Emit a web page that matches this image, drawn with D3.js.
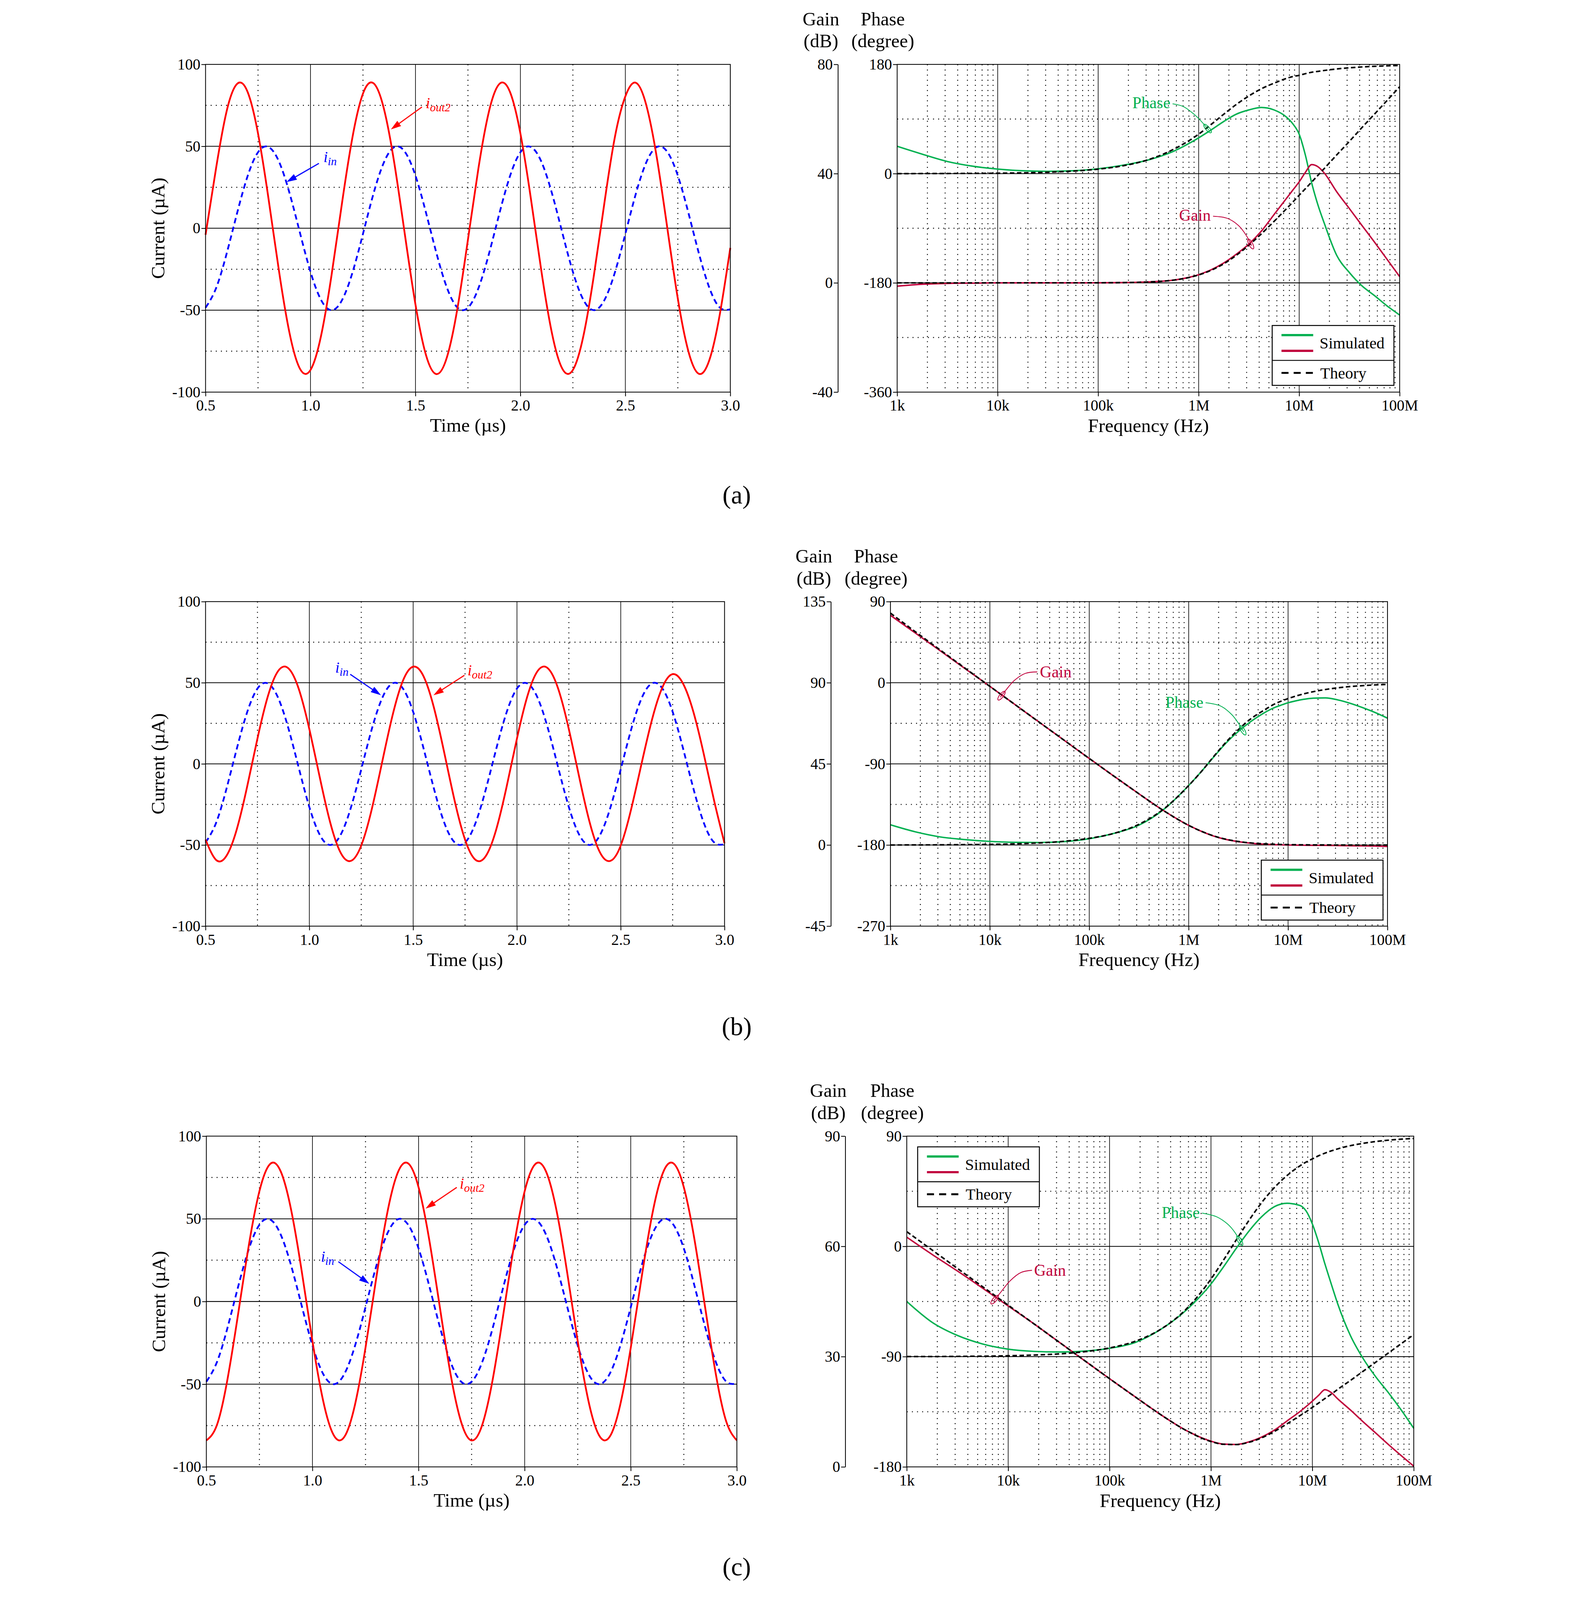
<!DOCTYPE html>
<html>
<head>
<meta charset="utf-8">
<script src="https://cdn.jsdelivr.net/npm/d3@7"></script>
<style>
  html, body { margin: 0; padding: 0; background: #fff; overflow: hidden; }
  svg { display: block; }
</style>
</head>
<body>
<svg id="chart"></svg>
<script>
// ---------------- DATA ----------------
// time axis samples (µs)
const timeUs = [0.5,0.55,0.6,0.65,0.7,0.75,0.8,0.85,0.9,0.95,1.0,1.05,1.1,1.15,1.2,1.25,1.3,1.35,1.4,1.45,
  1.5,1.55,1.6,1.65,1.7,1.75,1.8,1.85,1.9,1.95,2.0,2.05,2.1,2.15,2.2,2.25,2.3,2.35,2.4,2.45,
  2.5,2.55,2.6,2.65,2.7,2.75,2.8,2.85,2.9,2.95,3.0];
// input current i_in (µA) - same input in every panel
const iIn = [-48.5,-36.6,-15.7,9.1,31.7,46.4,49.6,40.6,21.5,-2.9,-26.6,-43.7,-50.0,-43.9,-27.0,-3.4,21.1,40.3,49.6,46.6,32.1,9.6,-15.2,-36.3,-48.4,
  -48.5,-36.6,-15.7,9.1,31.7,46.4,49.6,40.6,21.5,-2.9,-26.6,-43.7,-50.0,-43.9,-27.0,-3.4,21.1,40.3,49.6,46.6,32.1,9.6,-15.2,-36.3,-48.4,
  -49.5];
// output current i_out2 (µA)
const iOut2A = [-4,36.6,71.2,88.1,83.3,57.8,18.0,-26.2,-63.9,-85.8,-86.5,-65.8,-28.8,15.3,55.6,82.2,88.5,72.8,39.2,-4.2,
  -46.5,-77.3,-89.0,-78.7,-48.9,-7.0,36.6,71.2,88.1,83.3,57.8,18.0,-26.2,-63.9,-85.8,-86.5,-65.8,-28.8,15.3,55.6,
  80.5,88.8,75.0,43.0,0.0,-43.0,-75.0,-88.8,-80.5,-52.5,-12.0];
const iOut2B = [-46.7,-59.1,-56.8,-40.5,-14.2,15.6,41.6,57.3,58.8,45.8,21.4,-8.2,-35.9,-54.6,-59.8,-50.3,-28.3,0.7,29.5,51.0,
  59.9,54.0,34.7,6.8,-22.8,-46.7,-59.1,-56.8,-40.5,-14.2,15.6,41.6,57.3,58.8,45.8,21.4,-8.2,-35.9,-54.6,-59.8,
  -50.3,-28,0,27,47,55.3,49.5,32,6,-22.8,-49];
const iOut2C = [-84.0,-74.6,-46.7,-7.3,33.9,66.7,83.1,78.8,55.1,17.8,-24.0,-59.8,-80.8,-81.9,-62.6,-27.9,13.7,51.9,77.3,83.6,
  69.1,37.6,-3.2,-43.3,-72.6,-84.0,-74.6,-46.7,-7.3,33.9,66.7,83.1,78.8,55.1,17.8,-24.0,-59.8,-80.8,-81.9,-62.6,
  -27.9,13.7,51.9,77.3,83.6,69.1,37.6,-3.2,-43.3,-72.6,-84.0];

// frequency samples (Hz)
const freqHz = [1e3,1.78e3,3.16e3,5.62e3,1e4,1.78e4,3.16e4,5.62e4,1e5,1.78e5,3.16e5,5.62e5,1e6,1.33e6,1.78e6,2.37e6,
  3.16e6,4.22e6,5.62e6,7.5e6,8.66e6,1e7,1.155e7,1.33e7,1.54e7,1.78e7,2.37e7,3.16e7,4.22e7,5.62e7,7.5e7,1e8];
// panel (a)
const gainTheoryA = [0,0,0,0,0,0,0,0,0.03,0.1,0.33,1.0,2.9,4.6,7.0,10.1,13.8,18.0,22.5,27.2,29.6,32.1,34.5,36.9,39.4,41.9,46.9,51.8,56.9,61.8,66.8,71.8];
const gainSimA = [-1.2,-0.5,-0.2,-0.1,0,0,0,0,0.03,0.1,0.35,1.0,3.0,4.8,7.3,10.5,14.2,19.0,25.0,31.0,34.0,37.0,40.5,43.3,42.5,40.2,33.3,27.2,21.0,14.9,8.6,2.3];
const phaseTheoryA = [0,0.1,0.2,0.4,0.7,1.3,2.3,4.2,7.4,13,23,40,65,81,98,114,128,140,149,157,160,162,164.7,167,168.5,170,172.5,174.4,175.8,176.8,177.6,178.2];
const phaseSimA = [45,32,20,12.3,7.5,4.7,3.8,4.7,8,14,22.6,36.8,59,72,86,98,105,109,105,93,82,65,30,-15,-52,-82,-135,-163,-185,-201,-218,-233];
// panel (b)
const gainTheoryB = [128.6,118.3,108.2,98.1,88.0,78.0,68.0,58.0,48.0,38.1,28.4,19.0,10.9,7.7,5.1,3.2,1.95,1.15,0.67,0.38,0.29,0.2,0.16,0.12,0.09,0.07,0.04,0.02,0.01,0.01,0,0];
const gainSimB = [127.4,117.6,107.8,97.9,88.0,78.0,68.0,58.0,48.0,38.1,28.4,19.0,10.9,7.7,5.0,3.1,1.85,1.0,0.5,0.2,0.1,0.0,-0.05,-0.1,-0.15,-0.2,-0.2,-0.3,-0.4,-0.5,-0.6,-0.8];
const phaseTheoryB = [-180,-179.9,-179.8,-179.6,-179.3,-178.7,-177.7,-175.8,-172.6,-167,-157,-140,-114,-99,-82,-66,-52,-40,-31,-23,-20.1,-17.6,-15.3,-13.3,-11.5,-10,-7.5,-5.6,-4.2,-3.2,-2.4,-1.8];
const phaseSimB = [-157.6,-165.4,-171,-174,-176,-177,-177.2,-176.2,-173,-167,-158,-140.5,-114,-99,-82.5,-67,-54,-43,-34,-27,-24.5,-22.2,-20.5,-19,-17.9,-17.1,-16.8,-19,-22.8,-27.6,-33,-39.3];
// panel (c)
const gainTheoryC = [64.0,59.0,54.0,49.0,44.0,39.0,34.0,29.0,24.0,19.1,14.3,10.0,6.9,6.15,6.08,6.7,7.9,9.65,11.7,13.9,15.0,16.2,17.4,18.6,19.8,21.1,23.5,26.0,28.5,31.0,33.5,36.0];
const gainSimC = [62.5,57.8,53.3,48.6,43.8,39.0,34.0,29.0,24.0,19.1,14.3,10.0,7.0,6.2,6.1,6.8,8.1,10.0,12.5,15.0,16.4,17.9,19.5,21.0,20.2,18.5,15.5,12.3,9.2,6.1,3.1,0.2];
const phaseTheoryC = [-89.9,-89.9,-89.8,-89.6,-89.3,-88.7,-87.8,-86.0,-82.9,-77.5,-67.9,-51.7,-26.7,-11.2,5.4,21.2,35.7,48.0,57.8,65.6,68.8,71.4,74.0,76.1,78.0,79.6,82.2,84.1,85.6,86.7,87.5,88.1];
const phaseSimC = [-45,-62,-72.7,-79.7,-83.9,-85.7,-86.2,-85.5,-83.2,-78.5,-68,-52.5,-30.7,-16.7,-1.5,12.5,24.2,32.4,35.2,33.5,29,18.3,3,-14.3,-31,-47,-72.7,-91.4,-106.5,-119.4,-133.4,-148.5];

// ticks
const timeTicks = [0.5,1.0,1.5,2.0,2.5,3.0];
const timeMinor = [0.75,1.25,1.75,2.25,2.75];
const currentTicks = [-100,-50,0,50,100];
const currentMinor = [-75,-25,25,75];
const freqTicks = [1e3,1e4,1e5,1e6,1e7,1e8];
const freqTickLabels = ["1k","10k","100k","1M","10M","100M"];
const gainTicksA = [-40,0,40,80], phaseTicksA = [-360,-180,0,180];
const gainTicksB = [-45,0,45,90,135], phaseTicksB = [-270,-180,-90,0,90];
const gainTicksC = [0,30,60,90], phaseTicksC = [-180,-90,0,90];

// ---------------- CANVAS (fit the whole figure into what is photographed) ----------------
const W = 4051, H = 4975;
const vw = window.innerWidth || W;
const vh = Math.min(window.innerHeight || H, H, 4080);
const root = d3.select("#chart")
  .attr("width", vw).attr("height", vh)
  .attr("viewBox", `0 0 ${W} ${H}`)
  .attr("preserveAspectRatio", "xMidYMin meet");
root.append("rect").attr("x", 0).attr("y", 0).attr("width", W).attr("height", H).attr("fill", "#fff");
const svg = root.append("g");

// ---------------- STYLE ----------------
const FONT = "'Liberation Serif','Times New Roman',Times,serif";
const RED = "#ff0000", BLUE = "#0000ff", GREEN = "#00b050", CRIMSON = "#c0003c";

function dottedLine(g, x1, y1, x2, y2) {
  g.append("line").attr("x1", x1).attr("y1", y1).attr("x2", x2).attr("y2", y2)
    .attr("stroke", "#000").attr("stroke-width", 3).attr("stroke-dasharray", "3,13");
}
function solidLine(g, x1, y1, x2, y2, w) {
  g.append("line").attr("x1", x1).attr("y1", y1).attr("x2", x2).attr("y2", y2)
    .attr("stroke", "#000").attr("stroke-width", w || 2);
}
function styleAxis(ax, keepDomain) {
  if (!keepDomain) ax.select(".domain").remove();
  else ax.select(".domain").attr("stroke", "#000").attr("stroke-width", 2.5);
  ax.selectAll(".tick line").attr("stroke", "#000").attr("stroke-width", 2.5);
  ax.selectAll("text").attr("font-family", FONT).attr("font-size", 48).attr("fill", "#000");
}
function arrowTo(g, x1, y1, x2, y2, color) {
  const dx = x2 - x1, dy = y2 - y1, L = Math.hypot(dx, dy), ux = dx / L, uy = dy / L;
  const hl = 32, hw = 10;
  const bx = x2 - ux * hl, by = y2 - uy * hl;
  g.append("line").attr("x1", x1).attr("y1", y1).attr("x2", bx + ux * 4).attr("y2", by + uy * 4)
    .attr("stroke", color).attr("stroke-width", 3.5);
  g.append("path").attr("d", `M${x2},${y2}L${bx - uy * hw},${by + ux * hw}L${bx + uy * hw},${by - ux * hw}Z`)
    .attr("fill", color);
}

// ---------------- TIME PANEL ----------------
function timePanel(box, iout, annos) {
  const g = svg.append("g");
  const x = d3.scaleLinear().domain([0.5, 3.0]).range([box.L, box.R]);
  const y = d3.scaleLinear().domain([-100, 100]).range([box.B, box.T]);
  timeMinor.forEach(t => dottedLine(g, x(t), box.T, x(t), box.B));
  currentMinor.forEach(v => dottedLine(g, box.L, y(v), box.R, y(v)));
  timeTicks.slice(1, -1).forEach(t => solidLine(g, x(t), box.T, x(t), box.B, 2));
  currentTicks.slice(1, -1).forEach(v => solidLine(g, box.L, y(v), box.R, y(v), 2.5));

  const line = d3.line().x((d, i) => x(timeUs[i])).y(d => y(d)).curve(d3.curveNatural);
  g.append("path").attr("d", line(iIn)).attr("fill", "none").attr("stroke", BLUE)
    .attr("stroke-width", 5.5).attr("stroke-dasharray", "17,11");
  g.append("path").attr("d", line(iout)).attr("fill", "none").attr("stroke", RED)
    .attr("stroke-width", 5.5).attr("stroke-linejoin", "round");

  g.append("rect").attr("x", box.L).attr("y", box.T).attr("width", box.R - box.L).attr("height", box.B - box.T)
    .attr("fill", "none").attr("stroke", "#000").attr("stroke-width", 2.5);

  const ax = g.append("g").attr("transform", `translate(0,${box.B})`)
    .call(d3.axisBottom(x).tickValues(timeTicks).tickFormat(d3.format(".1f")).tickSize(13).tickPadding(11));
  styleAxis(ax);
  const ay = g.append("g").attr("transform", `translate(${box.L},0)`)
    .call(d3.axisLeft(y).tickValues(currentTicks).tickFormat(d => String(d)).tickSize(13).tickPadding(3));
  styleAxis(ay);

  g.append("text").attr("x", (box.L + box.R) / 2).attr("y", box.B + 124).attr("text-anchor", "middle")
    .attr("font-family", FONT).attr("font-size", 60).text("Time (µs)");
  g.append("text").attr("transform", `translate(${box.L - 128},${(box.T + box.B) / 2}) rotate(-90)`)
    .attr("text-anchor", "middle").attr("font-family", FONT).attr("font-size", 60).text("Current (µA)");

  annos.forEach(a => {
    const t = g.append("text").attr("x", x(a.label[0])).attr("y", y(a.label[1]))
      .attr("font-family", FONT).attr("font-style", "italic").attr("fill", a.color);
    t.append("tspan").attr("font-size", 48).text("i");
    t.append("tspan").attr("font-size", 36).attr("dy", 10).text(a.sub);
    arrowTo(g, x(a.from[0]), y(a.from[1]), x(a.to[0]), y(a.to[1]), a.color);
  });
}

// ---------------- BODE PANEL ----------------
function bodePanel(box, gainDom, phaseDom, gainTicks, phaseTicks, s, legendBox, annos) {
  const g = svg.append("g");
  const x = d3.scaleLog().domain([1e3, 1e8]).range([box.L, box.R]);
  const yg = d3.scaleLinear().domain(gainDom).range([box.B, box.T]);
  const yp = d3.scaleLinear().domain(phaseDom).range([box.B, box.T]);

  // grid
  [1e3, 1e4, 1e5, 1e6, 1e7].forEach(dec => {
    for (let k = 2; k <= 9; k++) dottedLine(g, x(k * dec), box.T, x(k * dec), box.B);
  });
  for (let i = 0; i < phaseTicks.length - 1; i++) {
    const m = (phaseTicks[i] + phaseTicks[i + 1]) / 2;
    dottedLine(g, box.L, yp(m), box.R, yp(m));
  }
  freqTicks.slice(1, -1).forEach(f => solidLine(g, x(f), box.T, x(f), box.B, 2));
  phaseTicks.slice(1, -1).forEach(p => solidLine(g, box.L, yp(p), box.R, yp(p), 2.5));

  // curves
  const lg = d3.line().x((d, i) => x(freqHz[i])).y(d => yg(d)).curve(d3.curveMonotoneX);
  const lp = d3.line().x((d, i) => x(freqHz[i])).y(d => yp(d)).curve(d3.curveMonotoneX);
  g.append("path").attr("d", lp(s.phaseSim)).attr("fill", "none").attr("stroke", GREEN).attr("stroke-width", 4.5);
  g.append("path").attr("d", lg(s.gainSim)).attr("fill", "none").attr("stroke", CRIMSON).attr("stroke-width", 4.5);
  g.append("path").attr("d", lp(s.phaseTheory)).attr("fill", "none").attr("stroke", "#000")
    .attr("stroke-width", 4.8).attr("stroke-dasharray", "14,8");
  g.append("path").attr("d", lg(s.gainTheory)).attr("fill", "none").attr("stroke", "#000")
    .attr("stroke-width", 4.8).attr("stroke-dasharray", "14,8");

  // frame
  g.append("rect").attr("x", box.L).attr("y", box.T).attr("width", box.R - box.L).attr("height", box.B - box.T)
    .attr("fill", "none").attr("stroke", "#000").attr("stroke-width", 2.5);

  // axes
  const ax = g.append("g").attr("transform", `translate(0,${box.B})`)
    .call(d3.axisBottom(x).tickValues(freqTicks).tickFormat((d, i) => freqTickLabels[i]).tickSize(13).tickPadding(11));
  styleAxis(ax);
  const ap = g.append("g").attr("transform", `translate(${box.L},0)`)
    .call(d3.axisLeft(yp).tickValues(phaseTicks).tickFormat(d => String(d)).tickSize(13).tickPadding(3));
  styleAxis(ap);
  const agn = g.append("g").attr("transform", `translate(${box.G},0)`)
    .call(d3.axisLeft(yg).tickValues(gainTicks).tickFormat(d => String(d)).tickSize(13).tickPadding(3).tickSizeOuter(0));
  styleAxis(agn, true);

  // headers
  const hdr = (txt, cx, yy) => g.append("text").attr("x", cx).attr("y", yy).attr("text-anchor", "middle")
    .attr("font-family", FONT).attr("font-size", 59).text(txt);
  hdr("Gain", box.G - 53, box.T - 122);
  hdr("(dB)", box.G - 53, box.T - 53);
  hdr("Phase", box.L - 45, box.T - 122);
  hdr("(degree)", box.L - 45, box.T - 53);
  g.append("text").attr("x", (box.L + box.R) / 2).attr("y", box.B + 125).attr("text-anchor", "middle")
    .attr("font-family", FONT).attr("font-size", 60).text("Frequency (Hz)");

  // legend
  const lx = legendBox.x, ly = legendBox.y, lw = 380, lh = 187;
  const lgG = g.append("g");
  lgG.append("rect").attr("x", lx).attr("y", ly).attr("width", lw).attr("height", lh)
    .attr("fill", "#fff").attr("stroke", "#000").attr("stroke-width", 3);
  lgG.append("line").attr("x1", lx).attr("x2", lx + lw).attr("y1", ly + 109).attr("y2", ly + 109)
    .attr("stroke", "#000").attr("stroke-width", 3);
  lgG.append("line").attr("x1", lx + 29).attr("x2", lx + 128).attr("y1", ly + 30).attr("y2", ly + 30)
    .attr("stroke", GREEN).attr("stroke-width", 7);
  lgG.append("line").attr("x1", lx + 29).attr("x2", lx + 128).attr("y1", ly + 79).attr("y2", ly + 79)
    .attr("stroke", CRIMSON).attr("stroke-width", 7);
  lgG.append("line").attr("x1", lx + 29).attr("x2", lx + 128).attr("y1", ly + 148).attr("y2", ly + 148)
    .attr("stroke", "#000").attr("stroke-width", 6).attr("stroke-dasharray", "22,16");
  lgG.append("text").attr("x", lx + 148).attr("y", ly + 72).attr("font-family", FONT).attr("font-size", 50).text("Simulated");
  lgG.append("text").attr("x", lx + 150).attr("y", ly + 165).attr("font-family", FONT).attr("font-size", 50).text("Theory");

  // annotations
  annos.forEach(a => {
    const yy = a.axis === "gain" ? yg : yp;
    g.append("text").attr("x", x(a.label[0])).attr("y", yy(a.label[1])).attr("text-anchor", a.anchor)
      .attr("font-family", FONT).attr("font-size", 51).attr("fill", a.color).text(a.text);
    const pts = a.leader.map(p => [x(p[0]), yy(p[1])]);
    g.append("path").attr("d", d3.line().curve(d3.curveCatmullRom)(pts)).attr("fill", "none")
      .attr("stroke", a.color).attr("stroke-width", 2.5);
    const p = pts[pts.length - 2], q = pts[pts.length - 1];
    const ang = Math.atan2(q[1] - p[1], q[0] - p[0]) * 180 / Math.PI;
    g.append("ellipse").attr("cx", -6).attr("cy", 0).attr("rx", 17).attr("ry", 6)
      .attr("transform", `translate(${q[0]},${q[1]}) rotate(${ang})`)
      .attr("fill", "none").attr("stroke", a.color).attr("stroke-width", 2.5);
  });
}

// ---------------- LAYOUT ----------------
timePanel({ L: 197.5, R: 1836, T: 201, B: 1224 }, iOut2A, [
  { sub: "out2", color: RED, label: [1.549, 73.3], from: [1.531, 74.0], to: [1.383, 60.3] },
  { sub: "in", color: BLUE, label: [1.062, 40.3], from: [1.040, 39.6], to: [0.886, 28.2] }
]);
timePanel({ L: 197.5, R: 1818, T: 1878, B: 2891 }, iOut2B, [
  { sub: "in", color: BLUE, label: [1.125, 56.2], from: [1.197, 55.2], to: [1.345, 42.3] },
  { sub: "out2", color: RED, label: [1.762, 54.6], from: [1.747, 54.6], to: [1.598, 42.3] }
]);
timePanel({ L: 200, R: 1856.5, T: 3546.5, B: 4579 }, iOut2C, [
  { sub: "out2", color: RED, label: [1.694, 68.3], from: [1.680, 69.0], to: [1.533, 56.2] },
  { sub: "in", color: BLUE, label: [1.040, 24.1], from: [1.122, 24.1], to: [1.268, 10.7] }
]);

bodePanel({ L: 2357, R: 3926, T: 201, B: 1224, G: 2172 }, [-40, 80], [-360, 180], gainTicksA, phaseTicksA,
  { gainSim: gainSimA, gainTheory: gainTheoryA, phaseSim: phaseSimA, phaseTheory: phaseTheoryA },
  { x: 3528, y: 1016 }, [
    { text: "Phase", color: GREEN, axis: "phase", anchor: "end", label: [5.23e5, 108],
      leader: [[5.5e5, 115], [7.01e5, 110.6], [8.93e5, 98.3], [1.064e6, 86], [1.262e6, 71.9]] },
    { text: "Gain", color: CRIMSON, axis: "gain", anchor: "end", label: [1.321e6, 22.8],
      leader: [[1.39e6, 24.4], [1.936e6, 23.6], [2.489e6, 21.0], [2.985e6, 17.3], [3.365e6, 13.6]] }
  ]);
bodePanel({ L: 2336, R: 3888, T: 1878, B: 2891, G: 2150 }, [-45, 135], [-270, 90], gainTicksB, phaseTicksB,
  { gainSim: gainSimB, gainTheory: gainTheoryB, phaseSim: phaseSimB, phaseTheory: phaseTheoryB },
  { x: 3494, y: 2685 }, [
    { text: "Gain", color: CRIMSON, axis: "gain", anchor: "start", label: [3.184e4, 93],
      leader: [[3.0e4, 96], [2.275e4, 95.2], [1.766e4, 91.3], [1.439e4, 85.7], [1.274e4, 82]] },
    { text: "Phase", color: GREEN, axis: "phase", anchor: "end", label: [1.406e6, -27.9],
      leader: [[1.479e6, -22.2], [2.113e6, -26], [2.723e6, -35.5], [3.17e6, -45], [3.58e6, -54.5]] }
  ]);
bodePanel({ L: 2387, R: 3970, T: 3546.5, B: 4579, G: 2195 }, [0, 90], [-180, 90], gainTicksC, phaseTicksC,
  { gainSim: gainSimC, gainTheory: gainTheoryC, phaseSim: phaseSimC, phaseTheory: phaseTheoryC },
  { x: 2421, y: 3580 }, [
    { text: "Phase", color: GREEN, axis: "phase", anchor: "end", label: [7.76e5, 23.2],
      leader: [[8.17e5, 27.2], [1.135e6, 24.2], [1.455e6, 18.3], [1.726e6, 11.3], [1.963e6, 3.2]] },
    { text: "Gain", color: CRIMSON, axis: "gain", anchor: "start", label: [1.803e4, 52],
      leader: [[1.718e4, 53.5], [1.34e4, 52.9], [1.042e4, 50.6], [8.375e3, 47.4], [7.145e3, 45.1]] }
  ]);

// captions
[["(a)", 1572], ["(b)", 3231], ["(c)", 4918]].forEach(c => {
  svg.append("text").attr("x", 1856).attr("y", c[1]).attr("text-anchor", "middle")
    .attr("font-family", FONT).attr("font-size", 80).text(c[0]);
});
</script>
</body>
</html>
